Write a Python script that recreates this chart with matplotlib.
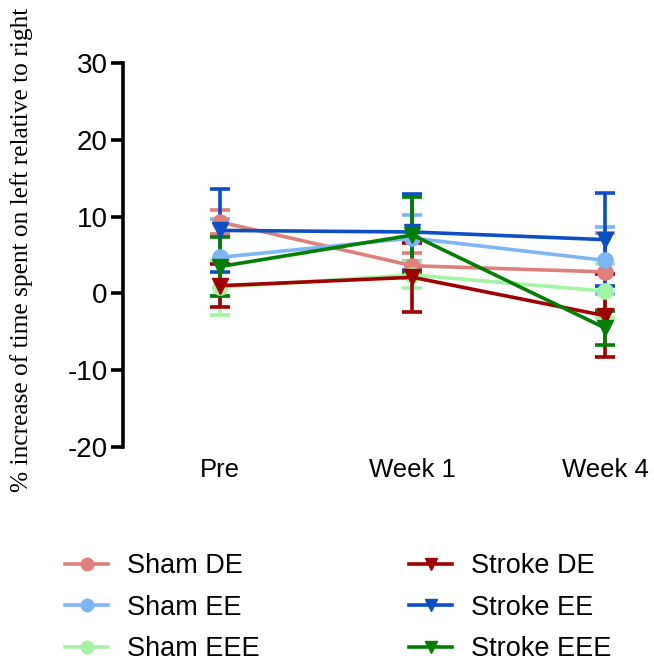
import matplotlib
matplotlib.use("Agg")
import matplotlib.pyplot as plt
from matplotlib.lines import Line2D
from matplotlib.transforms import ScaledTranslation

timepoints = ["Pre", "Week 1", "Week 4"]
groups = ["Sham DE", "Sham EE", "Sham EEE", "Stroke DE", "Stroke EE", "Stroke EEE"]
means = {
    "Sham DE":    [9.3, 3.6, 2.8],
    "Sham EE":    [4.7, 7.2, 4.3],
    "Sham EEE":   [0.8, 2.4, 0.3],
    "Stroke DE":  [1.0, 2.1, -2.9],
    "Stroke EE":  [8.2, 8.0, 7.0],
    "Stroke EEE": [3.5, 7.6, -4.5],
}
sems = {
    "Sham DE":    [1.6, 1.6, 5.0],
    "Sham EE":    [5.0, 3.0, 4.4],
    "Sham EEE":   [3.6, 1.7, 3.5],
    "Stroke DE":  [2.8, 4.5, 5.4],
    "Stroke EE":  [5.4, 4.9, 6.1],
    "Stroke EEE": [3.9, 5.0, 2.2],
}
colors = {
    "Sham DE": "#E07E7A",
    "Sham EE": "#7DB6F7",
    "Sham EEE": "#A2F5A0",
    "Stroke DE": "#A00000",
    "Stroke EE": "#0A4FC4",
    "Stroke EEE": "#007F00",
}
markers = {g: ("o" if g.startswith("Sham") else "v") for g in groups}

plt.rcParams["font.family"] = ["Liberation Sans", "DejaVu Sans"]
plt.rcParams["axes.unicode_minus"] = False

fig = plt.figure(figsize=(6.54, 6.66), dpi=100)
ax = fig.add_axes([123/654, 1 - 447/666, 522/654, 384/666])

x = list(range(len(timepoints)))
for g in groups:
    ax.errorbar(x, means[g], yerr=sems[g], color=colors[g], marker=markers[g],
                markersize=11, linewidth=2.6, elinewidth=2.6, capsize=7,
                capthick=2.6, label=g)

ax.set_xlim(-0.504, 2.208)
ax.set_ylim(-20, 30)
ax.set_yticks([-20, -10, 0, 10, 20, 30])
ax.set_xticks(x)
ax.set_xticklabels(timepoints, fontsize=18.5)
offset = ScaledTranslation(5/100, 0, fig.dpi_scale_trans)
for lab in ax.get_xticklabels():
    lab.set_transform(lab.get_transform() + offset)
ax.tick_params(axis="x", length=0, pad=8)
ax.tick_params(axis="y", labelsize=20, length=9, width=2.6, direction="out", pad=2)
for s in ["top", "right", "bottom"]:
    ax.spines[s].set_visible(False)
ax.spines["left"].set_linewidth(2.6)

fig.text(22/654, 1 - 250/666, "% increase of time spent on left relative to right",
         rotation=90, ha="center", va="center", fontsize=18.3,
         family=["Liberation Serif", "DejaVu Serif"])

handles = [Line2D([0], [0], color=colors[g], marker=markers[g], markersize=9,
                  linewidth=2.6) for g in groups]
fig.legend(handles=handles, labels=groups, ncol=2, frameon=False,
           loc="upper left", bbox_to_anchor=(65/654, 1 - 553/666),
           fontsize=19.5, handlelength=1.6, borderpad=0, borderaxespad=0,
           columnspacing=5.5, labelspacing=0.58, handletextpad=0.7)

fig.savefig("out.png", dpi=100)
